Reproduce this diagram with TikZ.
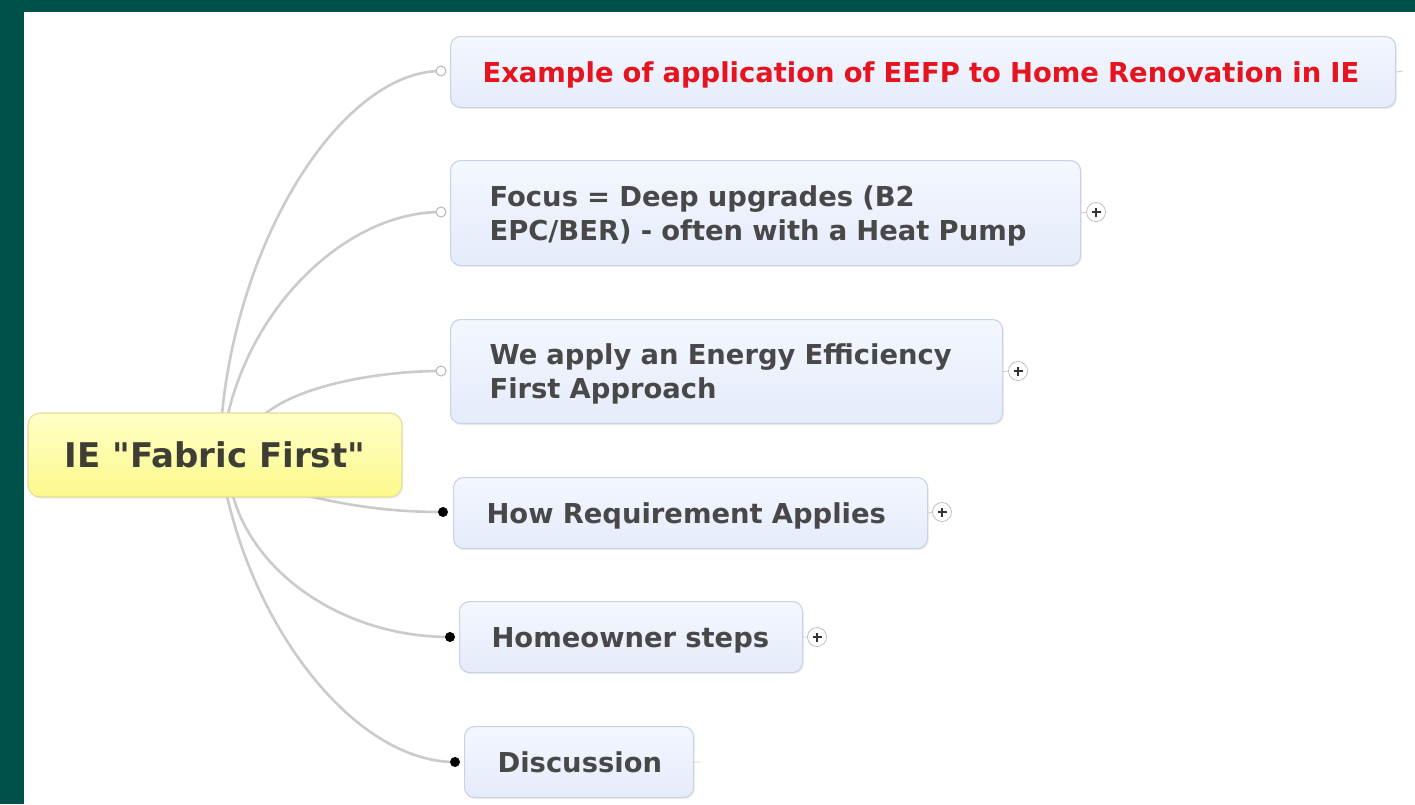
\documentclass[tikz,border=0pt]{standalone}
\usepackage{fontspec}
\setmainfont{DejaVu Sans}
\usetikzlibrary{shadows,backgrounds}
\definecolor{bggreen}{HTML}{00504A}
\definecolor{boxfillA}{HTML}{F4F7FE}
\definecolor{boxfillB}{HTML}{E4EBFA}
\definecolor{boxline}{HTML}{C9D3E5}
\definecolor{rootA}{HTML}{FFFFC8}
\definecolor{rootB}{HTML}{FCF98A}
\definecolor{rootline}{HTML}{E3DE9B}
\definecolor{txtgray}{HTML}{484848}
\definecolor{roottxt}{HTML}{3E3E34}
\definecolor{txtred}{HTML}{E5141E}
\definecolor{connc}{HTML}{CBCBCB}
\begin{document}
\begin{tikzpicture}[x=1pt,y=-1pt,
  mmbox/.style={draw=boxline, line width=1.1pt, rounded corners=10pt,
    top color=boxfillA, bottom color=boxfillB, anchor=north west,
    align=left, inner ysep=0pt, text=txtgray,
    font=\bfseries\fontsize{27.4}{34}\selectfont, text height=20pt,
    drop shadow={shadow xshift=1.2pt, shadow yshift=-1.5pt, opacity=0.12}},
  oneline/.style={text depth=0pt},
  twoline/.style={text depth=34pt},
  rootbox/.style={draw=rootline, line width=1.1pt, rounded corners=12pt,
    top color=rootA, bottom color=rootB, minimum width=374pt, minimum height=84pt,
    inner sep=0pt, text=roottxt, font=\bfseries\fontsize{34}{40}\selectfont,
    text height=24.8pt, text depth=0pt,
    drop shadow={shadow xshift=1.2pt, shadow yshift=-1.5pt, opacity=0.12}},
  hollowdot/.style={circle, draw=black!28, fill=white, line width=1pt, minimum size=10pt, inner sep=0pt},
  fulldot/.style={circle, fill=black, minimum size=10pt, inner sep=0pt},
  plusmark/.style={circle, draw=black!25, fill=white, line width=0.8pt, minimum size=19pt, inner sep=0pt,
    path picture={\draw[black!80, line width=1.5pt]
      ([xshift=-4.5pt]path picture bounding box.center) -- ([xshift=4.5pt]path picture bounding box.center)
      ([yshift=-4.5pt]path picture bounding box.center) -- ([yshift=4.5pt]path picture bounding box.center);}},
  connector/.style={draw=connc, line width=2.6pt},
  stub/.style={draw=black!20, line width=0.8pt}
]
\useasboundingbox (0,0) rectangle (1415,804);

% nodes
\node[rootbox] (root) at (215,455) {IE \textquotedbl Fabric First\textquotedbl};

\node[mmbox, oneline, minimum width=945pt, minimum height=71pt, inner xsep=32pt, text width=881pt, text=txtred]
  (n1) at (450,36) {\mbox{Example of application of EEFP to Home Renovation in IE}};
\node[mmbox, twoline, minimum width=630pt, minimum height=105pt, inner xsep=39pt, text width=552pt]
  (n2) at (450,160) {\mbox{Focus = Deep upgrades (B2}\\\mbox{EPC/BER) - often with a Heat Pump}};
\node[mmbox, twoline, minimum width=552pt, minimum height=104pt, inner xsep=39pt, text width=474pt]
  (n3) at (450,319) {\mbox{We apply an Energy Efficiency}\\\mbox{First Approach}};
\node[mmbox, oneline, minimum width=474pt, minimum height=71pt, inner xsep=33pt, text width=408pt]
  (n4) at (453,477) {\mbox{How Requirement Applies}};
\node[mmbox, oneline, minimum width=343pt, minimum height=71pt, inner xsep=32pt, text width=279pt]
  (n5) at (459,601) {\mbox{Homeowner steps}};
\node[mmbox, oneline, minimum width=229pt, minimum height=71pt, inner xsep=33pt, text width=163pt]
  (n6) at (464,726) {\mbox{Discussion}};

% connector end dots
\node[hollowdot] (d1) at (441,71) {};
\node[hollowdot] (d2) at (441,212) {};
\node[hollowdot] (d3) at (441,371) {};
\node[fulldot] (d4) at (443,512) {};
\node[fulldot] (d5) at (450,637) {};
\node[fulldot] (d6) at (455,762) {};

% expand markers
\node[plusmark] (p2) at (1096,212) {};
\node[plusmark] (p3) at (1018,371) {};
\node[plusmark] (p4) at (942,512) {};
\node[plusmark] (p5) at (817,637) {};
\coordinate (s1) at (1403,71);
\coordinate (s6) at (700,762);

% connector start points on the root
\coordinate (r1) at (222,414);
\coordinate (r2) at (228,414);
\coordinate (r3) at (265,414);
\coordinate (r4) at (308,496);
\coordinate (r5) at (233,496);
\coordinate (r6) at (227,496);

\begin{scope}[on background layer]
  \fill[bggreen] (0,0) rectangle (1415,804);
  \fill[white] (24,12) rectangle (1415,804);
  \draw[connector] (r1) .. controls (240,230) and (345,71) .. (d1.center);
  \draw[connector] (r2) .. controls (255,300) and (350,212) .. (d2.center);
  \draw[connector] (r3) .. controls (300,385) and (380,371) .. (d3.center);
  \draw[connector] (r4) .. controls (360,508) and (400,512) .. (d4.center);
  \draw[connector] (r5) .. controls (255,575) and (345,637) .. (d5.center);
  \draw[connector] (r6) .. controls (260,640) and (360,762) .. (d6.center);
  \draw[stub] (n2.east) -- (p2.west);
  \draw[stub] (n3.east) -- (p3.west);
  \draw[stub] (n4.east) -- (p4.west);
  \draw[stub] (n5.east) -- (p5.west);
  \draw[stub] (n1.east) -- (s1);
  \draw[stub] (n6.east) -- (s6);
\end{scope}
\end{tikzpicture}
\end{document}
